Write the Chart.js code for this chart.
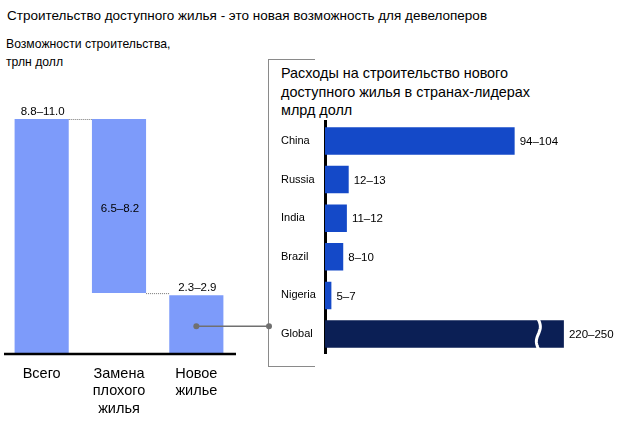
<!DOCTYPE html>
<html><head><meta charset="utf-8">
<script src="https://cdn.jsdelivr.net/npm/chart.js@4"></script>
<style>
body{margin:0;width:639px;height:427px;background:#fff;position:relative;overflow:hidden;font-family:"Liberation Sans",Arial,sans-serif;color:#000}
.t{position:absolute;white-space:nowrap}
canvas{position:absolute}
#bracket{position:absolute;left:268px;top:59px;width:47px;height:308px;border:1.5px solid #8a8a8a;border-right:none;box-sizing:border-box}
</style></head><body>
<div class="t" style="left:7px;top:7px;font-size:13.5px;line-height:18px">Строительство доступного жилья - это новая возможность для девелоперов</div>
<div class="t" style="left:6px;top:35px;font-size:12.2px;line-height:18px">Возможности строительства,<br>трлн долл</div>
<div id="bracket"></div>
<div class="t" style="left:281px;top:64px;font-size:14.4px;line-height:18.5px">Расходы на строительство нового<br>доступного жилья в странах-лидерах<br>млрд долл</div>
<canvas id="left" width="275" height="330" style="left:0;top:90px"></canvas>
<canvas id="right" width="364" height="245" style="left:275px;top:115px"></canvas>
<script>
// ---- data ----
const leftCategories = [['Всего'], ['Замена', 'плохого', 'жилья'], ['Новое', 'жилье']];
const leftBarBottom = [0, 2.85, 0];
const leftBarTop = [11.0, 11.0, 2.75];
const leftValueLabels = ['8.8–11.0', '6.5–8.2', '2.3–2.9'];

const countries = ['China', 'Russia', 'India', 'Brazil', 'Nigeria', 'Global'];
// bar lengths as drawn in the picture (Global bar is shown with a broken axis)
const countryBarLength = [104, 13, 12, 10, 3.5, 131];
const countryValueLabels = ['94–104', '12–13', '11–12', '8–10', '5–7', '220–250'];
const globalBreakAt = 117;

const FONT = '"Liberation Sans", Arial, sans-serif';

const leftDeco = {
  id: 'leftDeco',
  afterDatasetsDraw(chart) {
    const ctx = chart.ctx;
    const ca = chart.chartArea;
    const bars = chart.getDatasetMeta(0).data;
    ctx.save();
    // baseline
    ctx.strokeStyle = '#000';
    ctx.lineWidth = 2.5;
    ctx.beginPath();
    ctx.moveTo(ca.left + 1, ca.bottom);
    ctx.lineTo(ca.right + 1, ca.bottom);
    ctx.stroke();
    ctx.fillStyle = '#000';
    ctx.font = '11.5px ' + FONT;
    ctx.textAlign = 'center';
    ctx.textBaseline = 'middle';
    bars.forEach((b, i) => {
      const top = Math.min(b.y, b.base), bot = Math.max(b.y, b.base);
      const ly = (i === 1) ? (top + bot) / 2 + 3 : top - 7;
      ctx.fillText(leftValueLabels[i], b.x + 1, ly);
    });
    // dotted connectors
    ctx.strokeStyle = '#777';
    ctx.lineWidth = 1;
    ctx.setLineDash([1, 1]);
    const b0 = bars[0], b1 = bars[1], b2 = bars[2];
    ctx.beginPath();
    ctx.moveTo(b0.x + b0.width / 2, Math.min(b0.y, b0.base) + 0.5);
    ctx.lineTo(b1.x - b1.width / 2, Math.min(b0.y, b0.base) + 0.5);
    const y1 = Math.max(b1.y, b1.base);
    ctx.moveTo(b1.x + b1.width / 2, y1 + 0.5);
    ctx.lineTo(b2.x - b2.width / 2, y1 + 0.5);
    ctx.stroke();
    ctx.setLineDash([]);
    // connector to the right panel
    const cy = chart.scales.y.getPixelForValue(1.3);
    ctx.strokeStyle = '#707070';
    ctx.fillStyle = '#707070';
    ctx.lineWidth = 1.5;
    ctx.beginPath();
    ctx.moveTo(b2.x, cy);
    ctx.lineTo(269, cy);
    ctx.stroke();
    [b2.x, 269].forEach(x => { ctx.beginPath(); ctx.arc(x, cy, 3, 0, Math.PI * 2); ctx.fill(); });
    ctx.restore();
  }
};

new Chart(document.getElementById('left'), {
  type: 'bar',
  data: {
    labels: leftCategories,
    datasets: [{
      data: leftBarBottom.map((b, i) => [b, leftBarTop[i]]),
      backgroundColor: '#7d9bfa',
      borderWidth: 0,
      barPercentage: 0.7,
      categoryPercentage: 1
    }]
  },
  options: {
    responsive: false, animation: false,
    plugins: { legend: { display: false }, tooltip: { enabled: false } },
    layout: { padding: { left: 3, right: 40, top: 29, bottom: 0 } },
    scales: {
      x: {
        grid: { display: false, drawTicks: false },
        border: { display: false },
        ticks: { color: '#000', font: { size: 14.5, family: FONT }, padding: 11 },
        afterFit(s) { s.height = 66; }
      },
      y: { display: false, min: 0, max: 11 }
    }
  },
  plugins: [leftDeco]
});

const rightDeco = {
  id: 'rightDeco',
  afterDatasetsDraw(chart) {
    const ctx = chart.ctx;
    const bars = chart.getDatasetMeta(0).data;
    ctx.save();
    // broken-axis gap on Global bar
    const g = bars[bars.length - 1];
    const xb = chart.scales.x.getPixelForValue(globalBreakAt);
    const top = g.y - g.height / 2 - 1, h = g.height + 2;
    ctx.strokeStyle = '#fff';
    ctx.lineWidth = 3;
    ctx.beginPath();
    for (let k = 0; k <= 20; k++) {
      const yy = top + h * k / 20;
      const xx = xb + 2 * Math.sin(Math.PI * k / 10);
      if (k === 0) ctx.moveTo(xx, yy); else ctx.lineTo(xx, yy);
    }
    ctx.stroke();
    ctx.fillStyle = '#000';
    ctx.font = '11.5px ' + FONT;
    ctx.textAlign = 'left';
    ctx.textBaseline = 'middle';
    bars.forEach((b, i) => ctx.fillText(countryValueLabels[i], b.x + 5, b.y + 1));
    ctx.restore();
  }
};

new Chart(document.getElementById('right'), {
  type: 'bar',
  data: {
    labels: countries,
    datasets: [{
      data: countryBarLength,
      backgroundColor: countries.map(c => c === 'Global' ? '#0b1f55' : '#1449c8'),
      borderWidth: 0,
      barPercentage: 0.71,
      categoryPercentage: 1
    }]
  },
  options: {
    indexAxis: 'y',
    responsive: false, animation: false,
    plugins: { legend: { display: false }, tooltip: { enabled: false } },
    layout: { padding: { left: 6, right: 4, top: 4, bottom: 5 } },
    scales: {
      x: { display: false, min: 0, max: 170 },
      y: {
        grid: { display: false, drawTicks: false },
        border: { color: '#000', width: 3 },
        ticks: { color: '#000', font: { size: 11, family: FONT }, crossAlign: 'far', padding: 0 },
        afterFit(s) { s.width = 44; }
      }
    }
  },
  plugins: [rightDeco]
});
</script>
</body></html>
